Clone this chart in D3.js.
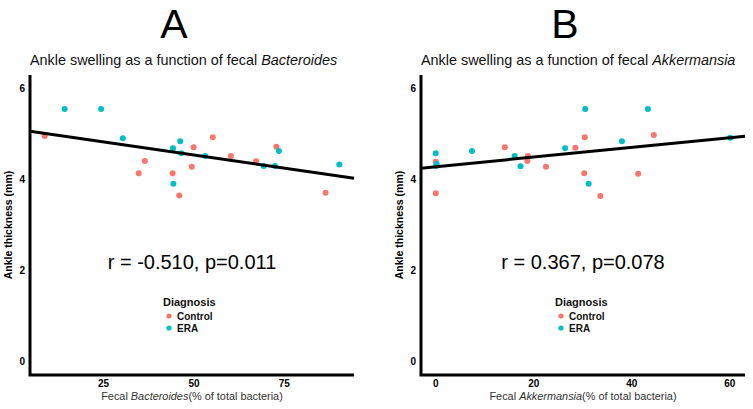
<!DOCTYPE html>
<html>
<head>
<meta charset="utf-8">
<script src="https://cdn.jsdelivr.net/npm/d3@7"></script>
<style>
  body { margin: 0; background: #fff; }
  svg { font-family: "Liberation Sans", Arial, sans-serif; }
</style>
</head>
<body>
<div id="chart"></div>
<script>
// panel A: fecal Bacteroides (% of total bacteria) vs ankle thickness (mm)
const bactControlX = [8.7, 34.7, 36.4, 44.1, 45.9, 49.4, 49.9, 55.2, 60.2, 67.2, 72.8, 86.4];
const bactControlY = [4.96, 4.14, 4.41, 4.14, 3.65, 4.28, 4.71, 4.93, 4.52, 4.40, 4.72, 3.71];
const bactEraX = [14.2, 24.3, 30.3, 44.2, 46.2, 46.5, 44.3, 53.1, 69.3, 72.4, 73.5, 90.2];
const bactEraY = [5.55, 5.55, 4.91, 4.69, 4.84, 4.58, 3.91, 4.52, 4.30, 4.30, 4.63, 4.33];

// panel B: fecal Akkermansia
const akkControlX = [0, 0, 14.1, 18.8, 18.7, 22.5, 28.5, 30.4, 30.3, 33.6, 41.3, 44.5];
const akkControlY = [4.39, 3.70, 4.71, 4.52, 4.41, 4.28, 4.70, 4.93, 4.14, 3.64, 4.13, 4.98];
const akkEraX = [0, 0.2, 0.1, 7.4, 16.1, 17.3, 26.4, 30.5, 31.2, 38.0, 43.3, 60.1];
const akkEraY = [4.58, 4.34, 4.30, 4.63, 4.52, 4.29, 4.69, 5.55, 3.91, 4.84, 5.55, 4.92];

const groups = ["Control", "ERA"];
const groupColors = ["#F8766D", "#00BFC4"];
const yTicks = [0, 2, 4, 6];
const bactTicks = [25, 50, 75];
const akkTicks = [0, 20, 40, 60];
const stats = ["r = -0.510, p=0.011", "r = 0.367, p=0.078"];

const width = 753, height = 409;
const color = d3.scaleOrdinal().domain(groups).range(groupColors);

const svg = d3.select("#chart").append("svg")
    .attr("width", width)
    .attr("height", height);

function toPoints(cx, cy, ex, ey) {
  const pts = cx.map((x, i) => ({x: x, y: cy[i], g: "Control"}));
  return pts.concat(ex.map((x, i) => ({x: x, y: ey[i], g: "ERA"})));
}

// ggplot-like 5% padding
function padded(vals) {
  const [lo, hi] = d3.extent(vals);
  const pad = (hi - lo) * 0.05;
  return [lo - pad, hi + pad];
}

function drawPanel(p) {
  const data = toPoints(p.cx, p.cy, p.ex, p.ey);
  const x = d3.scaleLinear().domain(padded(data.map(d => d.x))).range([p.left, p.right]);
  const y = d3.scaleLinear().domain(padded([0, 6])).range([375, 75]);

  const g = svg.append("g");

  g.append("text")
      .attr("x", (p.left + p.right) / 2 + p.letterShift)
      .attr("y", 38)
      .attr("text-anchor", "middle")
      .style("font-size", "41px")
      .text(p.letter);

  const title = g.append("text")
      .attr("x", p.left)
      .attr("y", 65)
      .style("font-size", "14.4px")
      .attr("fill", "#111");
  title.append("tspan").text("Ankle swelling as a function of fecal ");
  title.append("tspan").style("font-style", "italic").text(p.taxon);

  // regression line over the full range
  const mx = d3.mean(data, d => d.x), my = d3.mean(data, d => d.y);
  const slope = d3.sum(data, d => (d.x - mx) * (d.y - my)) / d3.sum(data, d => (d.x - mx) ** 2);
  const xd = x.domain();

  g.selectAll("circle")
    .data(data)
    .join("circle")
      .attr("cx", d => x(d.x))
      .attr("cy", d => y(d.y))
      .attr("r", 3)
      .attr("fill", d => color(d.g));

  g.append("line")
      .attr("x1", x(xd[0])).attr("y1", y(my + slope * (xd[0] - mx)))
      .attr("x2", x(xd[1])).attr("y2", y(my + slope * (xd[1] - mx)))
      .attr("stroke", "black")
      .attr("stroke-width", 3);

  // axes
  g.append("path")
      .attr("d", `M${p.left},75V375H${p.right}`)
      .attr("fill", "none")
      .attr("stroke", "black")
      .attr("stroke-width", 3)
      .attr("stroke-linejoin", "miter");

  g.selectAll(".ytick")
    .data(yTicks)
    .join("text")
      .attr("x", p.left - 5)
      .attr("y", d => y(d))
      .attr("dy", "0.35em")
      .attr("text-anchor", "end")
      .style("font-size", "10px")
      .style("font-weight", "bold")
      .text(d => d);

  g.selectAll(".xtick")
    .data(p.ticks)
    .join("text")
      .attr("x", d => x(d))
      .attr("y", 387)
      .attr("text-anchor", "middle")
      .style("font-size", "10px")
      .style("font-weight", "bold")
      .text(d => d);

  const xt = g.append("text")
      .attr("x", (p.left + p.right) / 2)
      .attr("y", 400)
      .attr("text-anchor", "middle")
      .attr("fill", "#333")
      .style("font-size", "10.9px");
  xt.append("tspan").text("Fecal ");
  xt.append("tspan").style("font-style", "italic").text(p.taxon);
  xt.append("tspan").text("(% of total bacteria)");

  g.append("text")
      .attr("transform", `translate(${p.left - 18},225) rotate(-90)`)
      .attr("text-anchor", "middle")
      .style("font-size", "10.5px")
      .style("font-weight", "bold")
      .text("Ankle thickness (mm)");

  g.append("text")
      .attr("x", (p.left + p.right) / 2)
      .attr("y", 269)
      .attr("text-anchor", "middle")
      .style("font-size", "20px")
      .text(p.stat);

  // legend
  const lg = g.append("g").attr("transform", `translate(${p.legendX},0)`);
  lg.append("text")
      .attr("x", 0).attr("y", 306)
      .style("font-size", "11px")
      .style("font-weight", "bold")
      .attr("fill", "#111")
      .text("Diagnosis");
  lg.selectAll(".key")
    .data(groups)
    .join("g")
      .each(function(d, i) {
        const k = d3.select(this);
        k.append("circle")
            .attr("cx", 6).attr("cy", 316 + i * 12)
            .attr("r", 2.6)
            .attr("fill", color(d));
        k.append("text")
            .attr("x", 14).attr("y", 316 + i * 12)
            .attr("dy", "0.35em")
            .style("font-size", "10px")
            .style("font-weight", "bold")
            .attr("fill", "#111")
            .text(d);
      });
}

drawPanel({letter: "A", letterShift: -18, taxon: "Bacteroides", left: 30, right: 354,
  cx: bactControlX, cy: bactControlY, ex: bactEraX, ey: bactEraY,
  ticks: bactTicks, stat: stats[0], legendX: 163});
drawPanel({letter: "B", letterShift: -18, taxon: "Akkermansia", left: 421, right: 745,
  cx: akkControlX, cy: akkControlY, ex: akkEraX, ey: akkEraY,
  ticks: akkTicks, stat: stats[1], legendX: 555});
</script>
</body>
</html>
